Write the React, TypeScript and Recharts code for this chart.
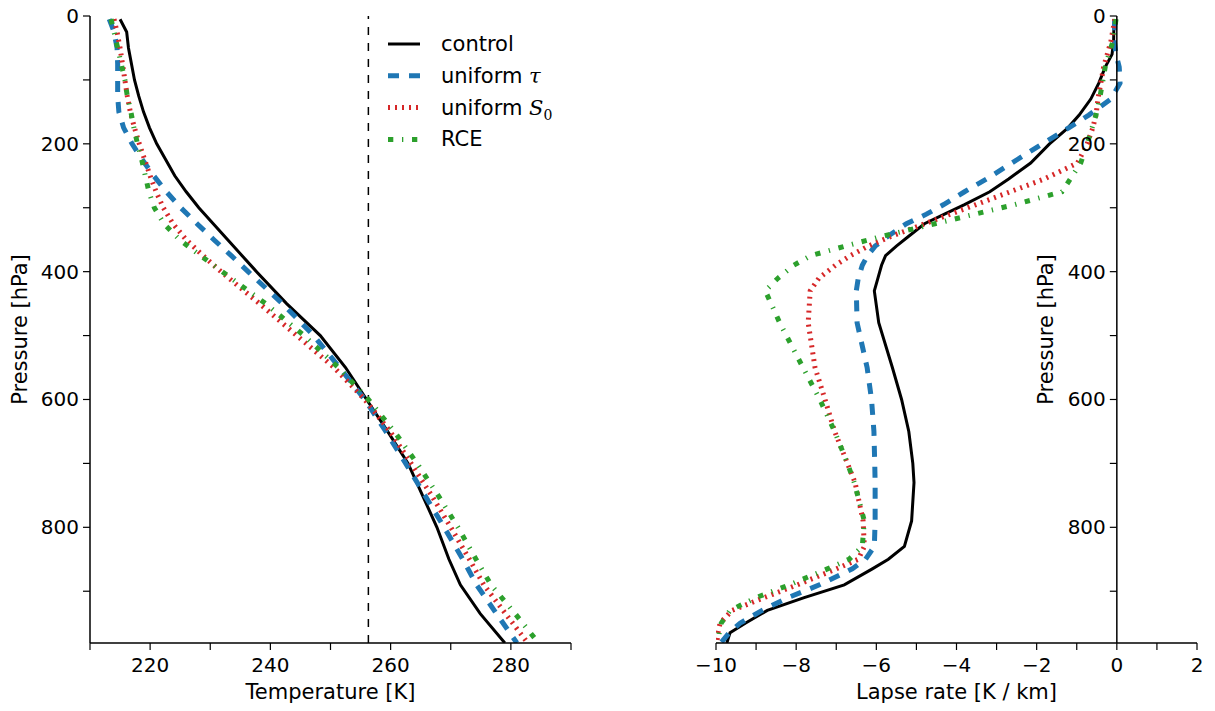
import { Legend, Line, LineChart, ReferenceDot, ReferenceLine, XAxis, YAxis } from "recharts"

const FONT = "DejaVu Sans"
const TICK_FONT = 20
const TITLE_FONT = 21

// pressure levels [hPa] used by the temperature profiles
const tempLevels = [5, 25, 50, 75, 100, 125, 150, 175, 200, 225, 250, 275, 300, 325, 350, 375, 400, 450, 500, 550, 600, 650, 700, 750, 800, 850, 890, 935, 981]
const tempControl = [215.0, 216.1, 216.4, 216.9, 217.4, 218.1, 218.9, 219.9, 221.1, 222.6, 224.1, 226.0, 228.1, 230.5, 232.9, 235.3, 237.7, 242.7, 248.3, 252.5, 256.0, 259.5, 262.9, 265.3, 267.7, 269.7, 271.6, 274.9, 279.0]
const tempUniformTau = [213.2, 214.0, 214.5, 214.6, 214.6, 214.6, 214.8, 215.6, 217.0, 218.7, 220.6, 222.7, 225.1, 227.8, 230.6, 233.5, 236.3, 242.0, 247.2, 251.5, 255.7, 259.2, 262.5, 265.7, 268.9, 272.0, 274.3, 277.6, 281.0]
const tempUniformS0 = [214.0, 214.5, 215.0, 215.4, 215.8, 216.2, 216.7, 217.4, 218.2, 219.1, 220.0, 221.0, 222.2, 223.8, 226.0, 228.8, 231.8, 238.2, 244.4, 250.6, 255.7, 259.9, 263.4, 266.8, 270.0, 273.1, 275.5, 279.1, 282.8]
const tempRCE = [213.5, 214.0, 214.6, 215.2, 215.8, 216.2, 216.8, 217.3, 217.9, 218.6, 219.2, 219.8, 220.7, 222.3, 224.9, 228.4, 232.0, 239.2, 245.6, 251.3, 256.3, 260.6, 264.4, 267.9, 271.2, 274.2, 276.7, 280.7, 284.6]
const refTemperature = 256.3

// pressure levels [hPa] used by the lapse rate profiles
const lapseLevels = [5, 40, 60, 80, 105, 130, 155, 175, 200, 230, 255, 275, 295, 310, 325, 345, 360, 375, 390, 410, 430, 480, 550, 600, 650, 700, 730, 790, 830, 850, 865, 890, 910, 930, 950, 965, 981]
const lapseControl = [-0.07, -0.08, -0.12, -0.29, -0.45, -0.65, -0.94, -1.22, -1.68, -2.15, -2.7, -3.17, -3.8, -4.3, -4.8, -5.2, -5.5, -5.77, -5.87, -5.96, -6.05, -5.94, -5.6, -5.37, -5.19, -5.09, -5.06, -5.12, -5.3, -5.7, -6.1, -6.8, -7.8, -8.72, -9.27, -9.65, -9.73]
const lapseUniformTau = [-0.05, -0.06, -0.02, 0.06, 0.08, -0.15, -0.7, -1.2, -1.86, -2.62, -3.25, -3.8, -4.32, -4.75, -5.25, -5.72, -6.03, -6.22, -6.35, -6.45, -6.5, -6.48, -6.23, -6.12, -6.06, -6.04, -6.03, -6.03, -6.05, -6.27, -6.6, -7.42, -8.2, -8.85, -9.4, -9.67, -9.88]
const lapseUniformS0 = [-0.05, -0.15, -0.24, -0.33, -0.4, -0.47, -0.52, -0.6, -0.74, -0.98, -1.81, -2.66, -3.51, -4.15, -4.79, -5.64, -6.2, -6.65, -7.02, -7.43, -7.65, -7.7, -7.53, -7.28, -7.04, -6.72, -6.53, -6.33, -6.3, -6.45, -7.0, -7.97, -8.8, -9.6, -9.9, -9.95, -9.98]
const lapseRCE = [-0.02, -0.1, -0.2, -0.29, -0.36, -0.43, -0.52, -0.62, -0.74, -0.9, -1.16, -1.37, -2.54, -3.54, -4.54, -5.88, -6.77, -7.64, -8.06, -8.45, -8.77, -8.41, -7.83, -7.41, -7.04, -6.72, -6.55, -6.3, -6.35, -6.68, -7.22, -8.17, -9.0, -9.65, -9.87, -9.92, -9.95]

const pressureDomain = [0, 981]
const pressureTicks = [0, 100, 200, 300, 400, 500, 600, 700, 800, 900]
const tempTicks = [210, 220, 230, 240, 250, 260, 270, 280, 290]
const lapseTicks = [-10, -9, -8, -7, -6, -5, -4, -3, -2, -1, 0, 1, 2]

const series = [
  { key: "control", color: "#000000", width: 3, dash: undefined as string | undefined },
  { key: "tau", color: "#1f77b4", width: 5, dash: "11 10" },
  { key: "s0", color: "#d62728", width: 5, dash: "2 5" },
  { key: "rce", color: "#2ca02c", width: 5, dash: "5.3 8.7 1.3 8.7" },
]

const tempData = tempLevels.map((p, i) => ({
  p,
  control: tempControl[i],
  tau: tempUniformTau[i],
  s0: tempUniformS0[i],
  rce: tempRCE[i],
}))

const lapseData = lapseLevels.map((p, i) => ({
  p,
  control: lapseControl[i],
  tau: lapseUniformTau[i],
  s0: lapseUniformS0[i],
  rce: lapseRCE[i],
}))

const fmt = (v: number) => (v < 0 ? `\u2212${Math.abs(v)}` : `${v}`)
const TICK_LEN = 7

function makeBottomTick(labelled: (v: number) => boolean) {
  return (props: any) => {
    const { x, y, payload } = props
    const v = payload.value
    return (
      <g>
        <line x1={x} x2={x} y1={y} y2={y + TICK_LEN} stroke="#000" strokeWidth={1.2} />
        {labelled(v) && (
          <text x={x} y={y + 29} textAnchor="middle" fontSize={TICK_FONT} fontFamily={FONT} fill="#000">
            {fmt(v)}
          </text>
        )}
      </g>
    )
  }
}

function PressureTick({ x, y, value }: { x: number; y: number; value: number }) {
  return (
    <g>
      <line x1={x - TICK_LEN} x2={x} y1={y} y2={y} stroke="#000" strokeWidth={1.2} />
      {value % 200 === 0 && (
        <text x={x - 11} y={y + 7} textAnchor="end" fontSize={TICK_FONT} fontFamily={FONT} fill="#000">
          {value}
        </text>
      )}
    </g>
  )
}

function LeftTick(props: any) {
  return <PressureTick x={props.x} y={props.y} value={props.payload.value} />
}

function BottomTitle({ viewBox, text }: any) {
  return (
    <text x={viewBox.x + viewBox.width / 2} y={viewBox.y + 56} textAnchor="middle" fontSize={TITLE_FONT} fontFamily={FONT} fill="#000">
      {text}
    </text>
  )
}

function SideTitle({ cx, cy }: { cx: number; cy: number }) {
  return (
    <text x={cx} y={cy} transform={`rotate(-90, ${cx}, ${cy})`} textAnchor="middle" fontSize={TITLE_FONT} fontFamily={FONT} fill="#000">
      Pressure [hPa]
    </text>
  )
}

function LeftTitle({ viewBox }: any) {
  return <SideTitle cx={viewBox.x + 27} cy={viewBox.y + viewBox.height / 2} />
}

function LegendBox() {
  const labels = [
    <>control</>,
    <>
      uniform <tspan fontFamily="DejaVu Serif" fontStyle="italic">τ</tspan>
    </>,
    <>
      uniform <tspan fontFamily="DejaVu Serif" fontStyle="italic">S</tspan>
      <tspan fontFamily="DejaVu Serif" fontSize={14} dy={5}>0</tspan>
    </>,
    <>RCE</>,
  ]
  return (
    <svg width={200} height={140} style={{ display: "block" }}>
      {series.map((s, i) => {
        const y = 20 + i * 31.8
        return (
          <g key={s.key}>
            <line x1={8} x2={40} y1={y} y2={y} stroke={s.color} strokeWidth={s.width} strokeDasharray={s.dash} />
            <text x={61} y={y + 7} fontSize={TITLE_FONT} fontFamily={FONT} fill="#000">
              {labels[i]}
            </text>
          </g>
        )
      })}
    </svg>
  )
}

export default function App() {
  return (
    <div style={{ position: "absolute", left: 0, top: 0, width: 1215, height: 711, background: "#fff" }}>
      <div style={{ position: "absolute", left: 0, top: 0 }}>
        <LineChart layout="vertical" width={600} height={711} data={tempData} margin={{ top: 16, right: 29, bottom: 0, left: 0 }}>
          <XAxis
            type="number"
            domain={[210, 290]}
            ticks={tempTicks}
            interval={0}
            allowDataOverflow
            height={68}
            tickSize={0}
            tickMargin={0}
            tickLine={false}
            tick={makeBottomTick((v) => v % 20 === 0 && v > 210 && v < 290)}
            axisLine={{ stroke: "#000", strokeWidth: 1.5 }}
            label={<BottomTitle text="Temperature [K]" />}
          />
          <YAxis
            type="number"
            dataKey="p"
            domain={pressureDomain}
            ticks={pressureTicks}
            interval={0}
            allowDataOverflow
            width={90}
            tickSize={0}
            tickMargin={0}
            tickLine={false}
            tick={LeftTick}
            axisLine={{ stroke: "#000", strokeWidth: 1.5 }}
            label={<LeftTitle />}
          />
          <ReferenceLine x={refTemperature} stroke="#000" strokeWidth={1.5} strokeDasharray="8 8" />
          {series.map((s) => (
            <Line
              key={s.key}
              dataKey={s.key}
              stroke={s.color}
              strokeWidth={s.width}
              strokeDasharray={s.dash}
              dot={false}
              activeDot={false}
              isAnimationActive={false}
            />
          ))}
          <Legend layout="vertical" align="center" verticalAlign="middle" wrapperStyle={{ left: 380, top: 24, width: 200 }} content={() => <LegendBox />} />
        </LineChart>
      </div>
      <div style={{ position: "absolute", left: 600, top: 0 }}>
        <LineChart layout="vertical" width={615} height={711} data={lapseData} margin={{ top: 16, right: 18, bottom: 0, left: 116 }}>
          <XAxis
            type="number"
            domain={[-10, 2]}
            ticks={lapseTicks}
            interval={0}
            allowDataOverflow
            height={68}
            tickSize={0}
            tickMargin={0}
            tickLine={false}
            tick={makeBottomTick((v) => v % 2 === 0)}
            axisLine={{ stroke: "#000", strokeWidth: 1.5 }}
            label={<BottomTitle text="Lapse rate [K / km]" />}
          />
          <YAxis type="number" dataKey="p" domain={pressureDomain} allowDataOverflow hide />
          {series.map((s) => (
            <Line
              key={s.key}
              dataKey={s.key}
              stroke={s.color}
              strokeWidth={s.width}
              strokeDasharray={s.dash}
              dot={false}
              activeDot={false}
              isAnimationActive={false}
            />
          ))}
          <ReferenceLine
            x={0}
            stroke="#000"
            strokeWidth={1.5}
            label={(props: any) => <SideTitle cx={props.viewBox.x - 64} cy={props.viewBox.y + props.viewBox.height / 2} />}
          />
          {pressureTicks.map((p) => (
            <ReferenceDot
              key={p}
              x={0}
              y={p}
              r={0}
              shape={(props: any) => <PressureTick x={props.cx} y={props.cy} value={p} />}
            />
          ))}
        </LineChart>
      </div>
    </div>
  )
}
